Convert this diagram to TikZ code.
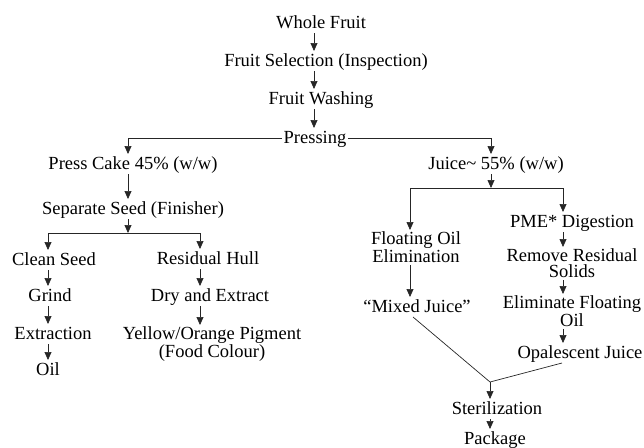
\documentclass[tikz,border=0pt]{standalone}
\usepackage{fontspec}
\setmainfont{Liberation Serif}
\usetikzlibrary{arrows.meta,calc}
\begin{document}
\begin{tikzpicture}[x=1pt,y=-1pt,
  lbl/.style={font=\fontsize{18.5}{15}\selectfont, inner sep=0pt, outer sep=2pt, text height=13pt, text depth=3pt, anchor=base},
  lbltwo/.style={font=\fontsize{18.5}{16}\selectfont, inner sep=0pt, outer sep=2pt, align=center, anchor=north},
  arr/.style={draw=black!85, line width=0.7pt, -{Triangle[length=8pt,width=7pt]}},
  ln/.style={draw=black!85, line width=0.7pt}]
\useasboundingbox (0,0) rectangle (644,447);
% axes
\coordinate (aM) at (314,0);
\coordinate (aL) at (128,0);
\coordinate (aLL) at (48,0);
\coordinate (aLR) at (200,0);
\coordinate (aR) at (491,0);
\coordinate (aRL) at (410,0);
\coordinate (aRR) at (563,0);
\coordinate (jL) at (128,233);
\coordinate (jR) at (491,188);
\coordinate (jM) at (490,382);
% nodes
\node[lbl] (wf) at (321,28) {Whole Fruit};
\node[lbl] (fs) at (326,66) {Fruit Selection (Inspection)};
\node[lbl] (fw) at (321,104) {Fruit Washing};
\node[lbl] (pr) at (315,143) {Pressing};
\node[lbl] (pc) at (133,169) {Press Cake 45\% (w/w)};
\node[lbl] (ju) at (496,169) {Juice\textasciitilde{} 55\% (w/w)};
\node[lbl] (ss) at (133,214) {Separate Seed (Finisher)};
\node[lbl] (cs) at (54,265) {Clean Seed};
\node[lbl] (rh) at (208,264) {Residual Hull};
\node[lbl] (gr) at (50,301) {Grind};
\node[lbl] (de) at (210,301) {Dry and Extract};
\node[lbl] (ex) at (53,339) {Extraction};
\node[lbltwo] (yp) at (212,325) {Yellow/Orange Pigment\\(Food Colour)};
\node[lbl] (oil) at (48,375) {Oil};
\node[lbltwo] (foe) at (416,230) {Floating Oil\\Elimination};
\node[lbl] (pme) at (572,227) {PME* Digestion};
\node[lbltwo] (rrs) at (572,247) {Remove Residual\\Solids};
\node[lbl] (mj) at (417,312) {“Mixed Juice”};
\node[lbltwo] (efo) at (572,294) {Eliminate Floating\\Oil};
\node[lbl] (oj) at (580,358) {Opalescent Juice};
\node[lbl] (st) at (497,414) {Sterilization};
\node[lbl] (pk) at (495,444) {Package};
% connectors
\draw[arr] (wf.south -| aM) -- (fs.north -| aM);
\draw[arr] (fs.south -| aM) -- (fw.north -| aM);
\draw[arr] (fw.south -| aM) -- (pr.north -| aM);
\draw[arr] (pr.west) -| (pc.north -| aL);
\draw[arr] (pr.east) -| (ju.north -| aR);
\draw[arr] (pc.south -| aL) -- (ss.north -| aL);
\draw[arr] (ss.south -| aL) -- (jL);
\draw[ln] (jL -| aLL) -- (jL -| aLR);
\draw[arr] (jL -| aLL) -- (cs.north -| aLL);
\draw[arr] (jL -| aLR) -- (rh.north -| aLR);
\draw[arr] (cs.south -| aLL) -- (gr.north -| aLL);
\draw[arr] (gr.south -| aLL) -- (ex.north -| aLL);
\draw[arr] (ex.south -| aLL) -- (oil.north -| aLL);
\draw[arr] (rh.south -| aLR) -- (de.north -| aLR);
\draw[arr] (de.south -| aLR) -- (yp.north -| aLR);
\draw[arr] (ju.south -| aR) -- (jR);
\draw[ln] (jR -| aRL) -- (jR -| aRR);
\draw[arr] (jR -| aRL) -- (foe.north -| aRL);
\draw[arr] (jR -| aRR) -- (pme.north -| aRR);
\draw[arr] (foe.south -| aRL) -- (mj.north -| aRL);
\draw[arr] (pme.south -| aRR) -- (rrs.north -| aRR);
\draw[arr] (rrs.south -| aRR) -- (efo.north -| aRR);
\draw[arr] (efo.south -| aRR) -- (oj.north -| aRR);
\draw[ln] ([xshift=-4pt]mj.south) -- (jM) -- ([xshift=-18pt]oj.south);
\draw[arr] (jM) -- (st.north -| jM);
\draw[arr] (st.south -| jM) -- (pk.north -| jM);
\end{tikzpicture}
\end{document}
